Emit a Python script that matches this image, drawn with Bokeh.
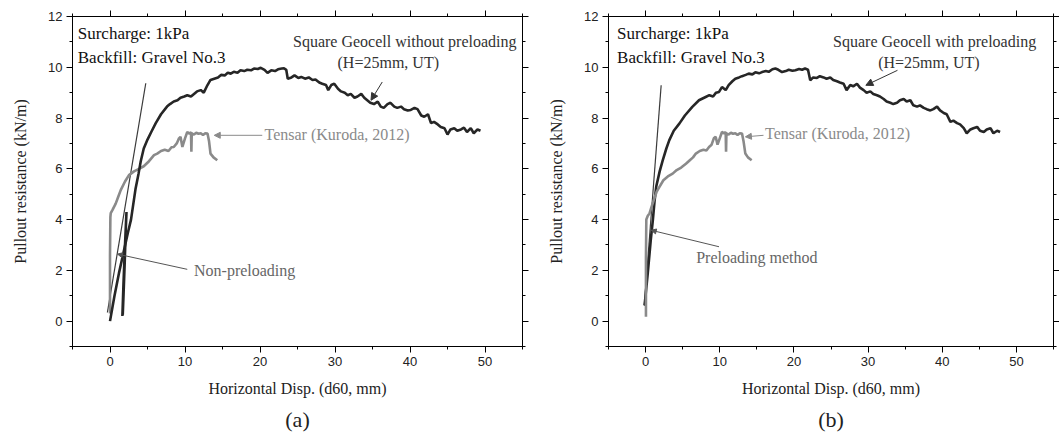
from bokeh.plotting import figure
from bokeh.layouts import row
from bokeh.models import Range1d, LinearAxis, FixedTicker, Label, Arrow, NormalHead, Title, CustomJSTickFormatter
from bokeh.embed import file_html
from bokeh.resources import INLINE

# ---------------- data ----------------
x_major_ticks = [0, 10, 20, 30, 40, 50]
x_minor_ticks = [-5, 5, 15, 25, 35, 45, 55]
y_major_ticks = [0, 2, 4, 6, 8, 10, 12]
y_minor_ticks = [-1, 1, 3, 5, 7, 9, 11]

# (a) Square Geocell without preloading
geo_a_x = [0, 0.6, 1.2, 1.8, 2.4, 2.8, 3.1, 3.4, 3.8, 4.1, 4.5, 5.0, 5.5, 6.1, 6.8, 7.6, 8.0, 8.5, 9.0, 9.4,
           9.9, 10.3, 10.8, 11.2, 11.6, 12.1, 12.5, 13.0, 13.4, 13.9, 14.4, 14.8, 15.3, 15.7, 16.1, 16.5, 17.0,
           17.4, 17.9, 18.3, 18.8, 19.2, 19.7, 20.1, 20.6, 21.0, 21.5, 22.0, 22.4, 22.9, 23.2, 23.5, 23.7, 24.2,
           24.6, 25.1, 25.5, 26.0, 26.5, 27.0, 27.4, 27.9, 28.3, 28.8, 29.1, 29.5, 29.9, 30.4, 30.8, 31.3, 31.7,
           32.1, 32.6, 33.0, 33.5, 33.9, 34.3, 34.7, 35.2, 35.7, 36.1, 36.5, 37.0, 37.4, 37.9, 38.3, 38.8, 39.2,
           39.7, 40.1, 40.6, 41.0, 41.5, 41.9, 42.4, 42.8, 43.2, 43.7, 44.1, 44.6, 45.0, 45.4, 45.9, 46.3, 46.8,
           47.2, 47.6, 48.1, 48.5, 49.0, 49.4]
geo_a_y = [0, 1.0, 1.9, 2.7, 3.5, 4.0, 4.6, 5.2, 5.8, 6.3, 6.8, 7.15, 7.45, 7.8, 8.15, 8.45, 8.55, 8.65, 8.7, 8.8,
           8.85, 8.9, 8.85, 8.95, 9.05, 9.1, 9.0, 9.3, 9.5, 9.55, 9.6, 9.7, 9.68, 9.78, 9.75, 9.82, 9.78,
           9.88, 9.85, 9.9, 9.88, 9.95, 9.93, 9.98, 9.9, 9.78, 9.88, 9.85, 9.92, 9.95, 9.96, 9.9, 9.55, 9.6,
           9.68, 9.58, 9.62, 9.55, 9.6, 9.5, 9.52, 9.4, 9.35, 9.3, 9.1, 9.3, 9.35, 9.15, 9.05, 9.0, 8.9,
           8.95, 8.8, 8.85, 8.95, 8.8, 8.7, 8.6, 8.55, 8.65, 8.45, 8.4, 8.55, 8.6, 8.45, 8.4, 8.45, 8.35,
           8.3, 8.32, 8.4, 8.35, 8.1, 8.05, 8.15, 7.8, 7.85, 7.75, 7.65, 7.6, 7.35, 7.55, 7.6, 7.5, 7.55,
           7.62, 7.45, 7.6, 7.4, 7.55, 7.5]
loop_a_x = [1.65, 1.8, 2.0, 2.15, 2.2, 2.1, 1.95, 1.8, 1.7]
loop_a_y = [0.2, 1.5, 3.0, 4.0, 4.3, 3.6, 2.2, 1.0, 0.25]
tensar_a_x = [0.0, 0.0, 0.05, 0.1, 0.32, 0.76, 1.1, 1.43, 2.0, 2.53, 3.2, 3.87, 4.5, 5.2, 5.87, 6.3, 6.8, 7.3,
              7.8, 8.2, 8.5, 8.9, 9.2, 9.4, 9.65, 10.0, 10.3, 10.6, 10.8, 10.85, 10.9, 11.2, 11.5, 11.8, 12.1,
              12.4, 12.7, 13.0, 13.2, 13.4, 13.8, 14.3]
tensar_a_y = [0.3, 2.6, 4.1, 4.25, 4.37, 4.63, 4.9, 5.16, 5.5, 5.75, 5.9, 6.0, 6.1, 6.3, 6.54, 6.6, 6.7, 6.75,
              6.7, 6.85, 6.86, 7.0, 7.2, 7.26, 6.86, 7.2, 7.45, 7.38, 7.45, 6.67, 7.4, 7.35, 7.42, 7.38, 7.4,
              7.33, 7.4, 7.39, 7.1, 6.6, 6.45, 6.34]
tangent_a_x = [-0.35, 4.77]
tangent_a_y = [0.34, 9.37]

# (b) Square Geocell with preloading
geo_b_x = [-0.13, 0.3, 0.7, 0.98, 1.2, 1.43, 1.9, 2.32, 2.8, 3.2, 3.8, 4.55, 5.3, 6.3, 7.2, 8.1, 8.6, 9.1, 9.5,
           9.9, 10.3, 10.8, 11.2, 11.7, 12.1, 12.6, 13.0, 13.5, 13.9, 14.4, 14.8, 15.3, 15.7, 16.2, 16.6, 17.1,
           17.5, 17.9, 18.4, 18.9, 19.3, 19.8, 20.2, 20.7, 21.1, 21.5, 21.9, 22.2, 22.6, 23.1, 23.5, 24.0, 24.4,
           24.9, 25.3, 25.8, 26.2, 26.7, 27.1, 27.6, 28.0, 28.5, 28.9, 29.4, 29.8, 30.3, 30.7, 31.2, 31.6, 32.1,
           32.5, 33.0, 33.4, 33.9, 34.3, 34.8, 35.2, 35.7, 36.1, 36.6, 37.0, 37.5, 37.9, 38.4, 38.8, 39.3, 39.7,
           40.2, 40.6, 41.1, 41.5, 42.0, 42.4, 42.9, 43.3, 43.8, 44.2, 44.7, 45.1, 45.6, 46.0, 46.5, 46.9, 47.4,
           47.8]
geo_b_y = [0.63, 1.9, 3.2, 3.98, 4.7, 5.29, 5.9, 6.34, 6.8, 7.13, 7.5, 7.78, 8.1, 8.44, 8.7, 8.83, 8.9, 8.85, 9.0,
           9.03, 9.22, 9.1, 9.3, 9.45, 9.55, 9.6, 9.65, 9.7, 9.75, 9.72, 9.8, 9.76, 9.81, 9.85, 9.82, 9.92,
           9.95, 9.9, 9.81, 9.85, 9.9, 9.86, 9.88, 9.93, 9.9, 9.95, 9.9, 9.49, 9.6, 9.58, 9.65, 9.6, 9.55,
           9.6, 9.5, 9.45, 9.4, 9.35, 9.1, 9.3, 9.25, 9.35, 9.2, 9.1, 9.0, 9.05, 8.95, 8.9, 8.85, 8.75,
           8.65, 8.6, 8.55, 8.6, 8.7, 8.75, 8.65, 8.7, 8.5, 8.45, 8.5, 8.4, 8.35, 8.3, 8.35, 8.45, 8.3,
           8.2, 8.15, 7.85, 7.9, 7.8, 7.75, 7.6, 7.4, 7.55, 7.6, 7.65, 7.5, 7.45, 7.55, 7.6, 7.4, 7.5,
           7.45]
tensar_b_x = [0.05, 0.05, 0.1, 0.3, 0.53, 0.8, 1.2, 1.5, 1.87, 2.4, 3.0, 3.65, 4.2, 4.8, 5.44, 6.0, 6.4, 6.78,
              7.3, 7.8, 8.2, 8.56, 8.9, 9.2, 9.45, 9.7, 10.0, 10.3, 10.6, 10.8, 10.85, 10.9, 11.2, 11.5, 11.8,
              12.1, 12.4, 12.7, 13.0, 13.2, 13.45, 13.8, 14.3]
tensar_b_y = [0.17, 2.5, 4.0, 4.15, 4.24, 4.5, 4.85, 5.1, 5.29, 5.55, 5.7, 5.81, 5.95, 6.05, 6.2, 6.35, 6.45, 6.6,
              6.7, 6.75, 6.72, 6.86, 6.95, 7.2, 7.26, 6.95, 7.2, 7.45, 7.4, 7.45, 6.67, 7.4, 7.35, 7.42, 7.38,
              7.4, 7.33, 7.4, 7.39, 7.1, 6.6, 6.45, 6.34]
tangent_b_x = [-0.18, 2.1]
tangent_b_y = [0.6, 9.29]

SERIF = "Liberation Serif"
SANS = "Liberation Sans"
BLACK = "#262626"
GRAY = "#8a8a8a"


def style_axis(ax, labels=True):
    ax.axis_line_color = "black"
    ax.axis_line_width = 1
    ax.major_tick_line_color = "black"
    ax.minor_tick_line_color = "black"
    ax.major_tick_in = 0
    ax.major_tick_out = 6
    ax.minor_tick_in = 0
    ax.minor_tick_out = 3
    if labels:
        ax.major_label_text_font = SANS
        ax.major_label_text_font_size = "13px"
        ax.major_label_text_color = "#222222"
        ax.major_label_standoff = 4
    else:
        ax.formatter = CustomJSTickFormatter(code="return '';")
        ax.major_label_standoff = 0


def make_panel(width, left_border, right_border, caption):
    p = figure(width=width, height=436, output_backend="svg", toolbar_location=None,
               x_range=Range1d(-5, 55), y_range=Range1d(-1, 12),
               min_border_left=left_border, min_border_right=right_border,
               min_border_top=16, min_border_bottom=89, background_fill_color="white",
               border_fill_color="white", outline_line_color="black")
    p.grid.visible = False
    p.xaxis.ticker = FixedTicker(ticks=x_major_ticks, minor_ticks=x_minor_ticks)
    p.yaxis.ticker = FixedTicker(ticks=y_major_ticks, minor_ticks=y_minor_ticks)
    style_axis(p.xaxis[0])
    style_axis(p.yaxis[0])
    p.xaxis.axis_label = "Horizontal Disp. (d60, mm)"
    p.yaxis.axis_label = "Pullout resistance (kN/m)"
    for ax, st in ((p.xaxis[0], 11), (p.yaxis[0], 16)):
        ax.axis_label_text_font = SERIF
        ax.axis_label_text_font_size = "16px"
        ax.axis_label_text_font_style = "normal"
        ax.axis_label_text_color = "#222222"
        ax.axis_label_standoff = st
    top = LinearAxis(ticker=FixedTicker(ticks=x_major_ticks, minor_ticks=x_minor_ticks))
    style_axis(top, labels=False)
    p.add_layout(top, "above")
    right = LinearAxis(ticker=FixedTicker(ticks=y_major_ticks, minor_ticks=y_minor_ticks))
    style_axis(right, labels=False)
    p.add_layout(right, "right")
    p.add_layout(Title(text=caption, align="center", text_font=SERIF, text_font_size="22px",
                       text_font_style="normal", text_color="#222222", standoff=10), "below")
    return p


def label(p, x, y, text, color, size="16px", align="left"):
    p.add_layout(Label(x=x, y=y, text=text, text_font=SERIF, text_font_size=size,
                       text_color=color, text_align=align, text_baseline="middle"))


def arrow(p, xs, ys, xe, ye, color, size=7):
    p.add_layout(Arrow(end=NormalHead(size=size, fill_color=color, line_color=color, line_width=1),
                       x_start=xs, y_start=ys, x_end=xe, y_end=ye,
                       line_color=color, line_width=1))


# ---------------- panel (a) ----------------
pa = make_panel(530, 72, 8, "(a)")
pa.line(tangent_a_x, tangent_a_y, line_color="#3a3a3a", line_width=1.2)
pa.line(tensar_a_x, tensar_a_y, line_color=GRAY, line_width=2.6)
pa.line(loop_a_x, loop_a_y, line_color=BLACK, line_width=2.6)
pa.line(geo_a_x, geo_a_y, line_color=BLACK, line_width=2.6)
label(pa, -4.3, 11.34, "Surcharge: 1kPa", "#111111", size="17px")
label(pa, -4.3, 10.39, "Backfill: Gravel No.3", "#111111", size="17px")
label(pa, 39.3, 11.0, "Square Geocell without preloading", "#333333", align="center")
label(pa, 37.1, 10.2, "(H=25mm, UT)", "#333333", align="center")
arrow(pa, 36.3, 9.42, 34.8, 8.7, "#333333")
label(pa, 20.6, 7.36, "Tensar (Kuroda, 2012)", GRAY)
arrow(pa, 20.3, 7.32, 13.9, 7.32, GRAY, size=6)
label(pa, 11.2, 2.0, "Non-preloading", "#666666")
arrow(pa, 10.3, 2.04, 1.0, 2.64, "#555555", size=5)

# ---------------- panel (b) ----------------
pb = make_panel(529, 78, 3, "(b)")
pb.line(tangent_b_x, tangent_b_y, line_color="#3a3a3a", line_width=1.2)
pb.line(geo_b_x, geo_b_y, line_color=BLACK, line_width=2.6)
pb.line(tensar_b_x, tensar_b_y, line_color=GRAY, line_width=2.6)
label(pb, -3.84, 11.34, "Surcharge: 1kPa", "#111111", size="17px")
label(pb, -3.84, 10.39, "Backfill: Gravel No.3", "#111111", size="17px")
label(pb, 38.97, 11.0, "Square Geocell with preloading", "#333333", align="center")
label(pb, 38.2, 10.2, "(H=25mm, UT)", "#333333", align="center")
arrow(pb, 33.96, 9.88, 29.7, 9.29, "#333333")
label(pb, 16.1, 7.39, "Tensar (Kuroda, 2012)", GRAY)
arrow(pb, 15.9, 7.32, 13.46, 7.26, GRAY, size=6)
label(pb, 6.82, 2.5, "Preloading method", "#666666")
arrow(pb, 9.9, 2.93, 0.76, 3.58, "#555555", size=5)

layout = row(pa, pb)
open("out.html", "w").write(file_html(layout, INLINE))
